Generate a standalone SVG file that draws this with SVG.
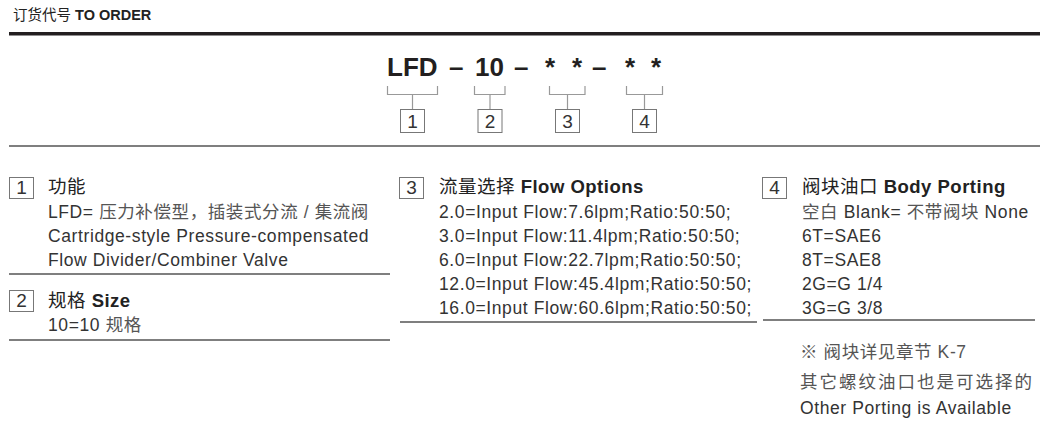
<svg xmlns="http://www.w3.org/2000/svg" width="1059" height="428" viewBox="0 0 1059 428">
<style>
text{font-family:"Liberation Sans","Noto Sans CJK SC",sans-serif;fill:#333}
.title{font-size:14.5px;fill:#222}
.code{font-size:26px;font-weight:bold;fill:#231f20}
.num{font-size:19px;fill:#333;text-anchor:middle}
.hd{font-size:18.5px;fill:#222;letter-spacing:0.5px}
.b{font-weight:bold}
.body{font-size:17.5px;fill:#333;letter-spacing:0.6px}
.cn{fill:#555}
.box{fill:#fff;stroke:#777;stroke-width:1}
.rule{stroke:#555;stroke-width:1.3;fill:none}
.br{stroke:#999;stroke-width:1.2;fill:none}
</style>
<rect width="1059" height="428" fill="#fff"/>
<g id="header">
<text class="title" x="13" y="20">订货代号 <tspan class="b">TO ORDER</tspan></text>
<rect x="9" y="32" width="1031" height="3.5" fill="#231f20"/>
</g>
<g id="code">
<text class="code" x="387" y="76">LFD</text>
<text class="code" x="449" y="76">–</text>
<text class="code" x="475" y="76">10</text>
<text class="code" x="514" y="76">–</text>
<text class="code" x="545" y="76">*</text>
<text class="code" x="572" y="76">*</text>
<text class="code" x="592" y="76">–</text>
<text class="code" x="625" y="76">*</text>
<text class="code" x="651" y="76">*</text>
</g>
<g id="connectors">
<path class="br" d="M387.5 86V94.5H437.5V86M412.5 94.5V109"/>
<path class="br" d="M474.5 86V94.5H505V86M490 94.5V109"/>
<path class="br" d="M549.5 86V94.5H585V86M567.5 94.5V109"/>
<path class="br" d="M626.5 86V94.5H662.5V86M644.5 94.5V109"/>
</g>
<g id="key1"><rect class="box" x="400.5" y="109.5" width="24" height="23"/><text class="num" x="412.5" y="128">1</text></g>
<g id="key2"><rect class="box" x="478" y="109.5" width="24" height="23"/><text class="num" x="490" y="128">2</text></g>
<g id="key3"><rect class="box" x="555.5" y="109.5" width="24" height="23"/><text class="num" x="567.5" y="128">3</text></g>
<g id="key4"><rect class="box" x="632.5" y="109.5" width="24" height="23"/><text class="num" x="644.5" y="128">4</text></g>
<line class="rule" x1="9" y1="146" x2="1040" y2="146"/>
<g id="item1">
<rect class="box" x="9.5" y="177.5" width="24" height="21"/><text class="num" x="21.5" y="194">1</text>
<text class="hd" x="48" y="193">功能</text>
<text class="body" x="48" y="218">LFD= <tspan class="cn">压力补偿型，插装式分流 / 集流阀</tspan></text>
<text class="body" x="48" y="242">Cartridge-style Pressure-compensated</text>
<text class="body" x="48" y="266">Flow Divider/Combiner Valve</text>
<line class="rule" x1="9" y1="274" x2="390" y2="274"/>
</g>
<g id="item2">
<rect class="box" x="9.5" y="290.5" width="24" height="21"/><text class="num" x="21.5" y="307">2</text>
<text class="hd" x="48" y="307">规格 <tspan class="b">Size</tspan></text>
<text class="body" x="48" y="331">10=10 <tspan class="cn">规格</tspan></text>
<line class="rule" x1="9" y1="340" x2="390" y2="340"/>
</g>
<g id="item3">
<rect class="box" x="399.5" y="177.5" width="24" height="21"/><text class="num" x="411.5" y="194">3</text>
<text class="hd" x="439" y="193">流量选择 <tspan class="b">Flow Options</tspan></text>
<text class="body" x="439" y="218">2.0=Input Flow:7.6lpm;Ratio:50:50;</text>
<text class="body" x="439" y="242">3.0=Input Flow:11.4lpm;Ratio:50:50;</text>
<text class="body" x="439" y="266">6.0=Input Flow:22.7lpm;Ratio:50:50;</text>
<text class="body" x="439" y="290">12.0=Input Flow:45.4lpm;Ratio:50:50;</text>
<text class="body" x="439" y="314">16.0=Input Flow:60.6lpm;Ratio:50:50;</text>
<line class="rule" x1="400" y1="322" x2="757" y2="322"/>
</g>
<g id="item4">
<rect class="box" x="762.5" y="177.5" width="24" height="21"/><text class="num" x="774.5" y="194">4</text>
<text class="hd" x="802" y="193">阀块油口 <tspan class="b">Body Porting</tspan></text>
<text class="body" x="802" y="218"><tspan class="cn">空白</tspan> Blank= <tspan class="cn">不带阀块</tspan> None</text>
<text class="body" x="802" y="242">6T=SAE6</text>
<text class="body" x="802" y="266">8T=SAE8</text>
<text class="body" x="802" y="290">2G=G 1/4</text>
<text class="body" x="802" y="314">3G=G 3/8</text>
<line class="rule" x1="763" y1="320" x2="1035" y2="320"/>
</g>
<g id="note">
<text class="body cn" x="800" y="358">※ 阀块详见章节 K-7</text>
<text class="body cn" x="800" y="388" style="letter-spacing:2px">其它螺纹油口也是可选择的</text>
<text class="body" x="800" y="414">Other Porting is Available</text>
</g>
</svg>
